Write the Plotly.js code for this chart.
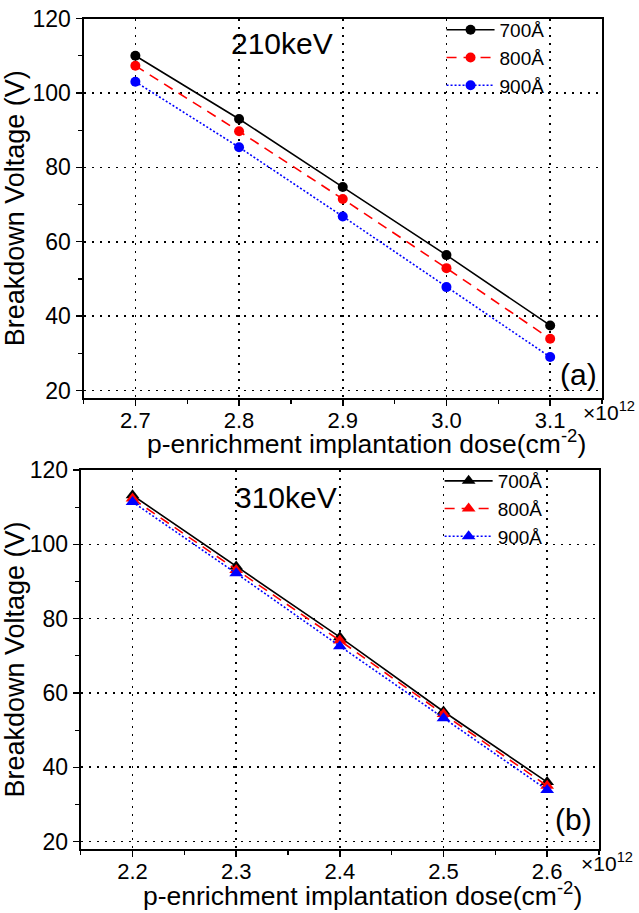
<!DOCTYPE html>
<html>
<head>
<meta charset="utf-8">
<script src="https://cdn.plot.ly/plotly-3.0.1.min.js"></script>
<style>html,body{margin:0;padding:0;background:#fff;}#chart{width:639px;height:913px;}</style>
</head>
<body>
<div id="chart"></div>
<script>
// Panel (a): 210keV
const doseA = [2.7, 2.8, 2.9, 3.0, 3.1];
const vA700 = [110.0, 93.0, 74.7, 56.4, 37.5];
const vA800 = [107.3, 89.7, 71.5, 52.9, 33.9];
const vA900 = [103.0, 85.4, 66.8, 47.8, 29.0];
// Panel (b): 310keV
const doseB = [2.2, 2.3, 2.4, 2.5, 2.6];
const vB700 = [113.2, 94.0, 75.0, 55.0, 36.0];
const vB800 = [112.3, 93.1, 74.1, 54.3, 35.0];
const vB900 = [111.4, 92.2, 72.6, 53.2, 33.9];
const seriesNames = ['700Å', '800Å', '900Å'];
const seriesColors = ['#000000', '#ff0000', '#0000ff'];
const seriesDash = ['solid', '10px,7px', '2px,2px'];
const xTicksA = [2.7, 2.8, 2.9, 3.0, 3.1];
const xTicksB = [2.2, 2.3, 2.4, 2.5, 2.6];
const yTicks = [20, 40, 60, 80, 100, 120];
const xTitle = 'p-enrichment implantation dose(cm<sup>-2</sup>)';
const yTitle = 'Breakdown Voltage (V)';

const FONT = 'Liberation Sans, Arial, sans-serif';
const traces = [];
const setsA = [vA700, vA800, vA900];
const setsB = [vB700, vB800, vB900];
setsA.forEach((v, i) => traces.push({
  x: doseA, y: v, name: seriesNames[i], type: 'scatter', mode: 'lines+markers',
  xaxis: 'x', yaxis: 'y', legend: 'legend',
  line: {color: seriesColors[i], width: 1.6, dash: seriesDash[i]},
  marker: {symbol: 'circle', size: 10, color: seriesColors[i]}
}));
setsB.forEach((v, i) => traces.push({
  x: doseB, y: v, name: seriesNames[i], type: 'scatter', mode: 'lines+markers',
  xaxis: 'x2', yaxis: 'y2', legend: 'legend2',
  line: {color: seriesColors[i], width: 1.6, dash: seriesDash[i]},
  marker: {symbol: 'triangle-up', size: 12, color: seriesColors[i]}
}));

function xax(domain, range, ticks, anchor) {
  return {
    domain: domain, range: range, anchor: anchor, tickvals: ticks, tickformat: '.1f',
    showline: true, linecolor: '#000', linewidth: 2, mirror: true,
    ticks: 'outside', ticklen: 6, tickwidth: 1.5, tickcolor: '#000',
    ticklabelstandoff: -4,
    minor: {dtick: 0.05, tick0: 0, ticks: 'outside', ticklen: 4, tickwidth: 1.2, tickcolor: '#000', showgrid: false},
    showgrid: true, gridcolor: '#000', gridwidth: 1.6, griddash: '2px,6px',
    zeroline: false, automargin: false,
    tickfont: {family: FONT, size: 22, color: '#000'}
  };
}
function yax(domain, anchor) {
  return {
    domain: domain, range: [18, 120], anchor: anchor, tickvals: yTicks,
    showline: true, linecolor: '#000', linewidth: 2, mirror: true,
    ticks: 'outside', ticklen: 6, tickwidth: 1.5, tickcolor: '#000',
    minor: {dtick: 10, tick0: 0, ticks: 'outside', ticklen: 4, tickwidth: 1.2, tickcolor: '#000', showgrid: false},
    showgrid: true, gridcolor: '#000', gridwidth: 1.6, griddash: '2px,6px',
    zeroline: false, automargin: false,
    tickfont: {family: FONT, size: 23, color: '#000'},
    title: {text: yTitle, font: {family: FONT, size: 27, color: '#000'}, standoff: 4}
  };
}

const legendBase = {
  xref: 'paper', yref: 'paper', xanchor: 'left', yanchor: 'top',
  bgcolor: 'rgba(255,255,255,0)', borderwidth: 0,
  font: {family: FONT, size: 19, color: '#000'}, itemwidth: 48, tracegroupgap: 0
};

const ann = (x, y, text, size, xanchor) => ({
  xref: 'paper', yref: 'paper', x: x / 639, y: 1 - y / 913,
  xanchor: xanchor || 'center', yanchor: 'middle',
  text: text, showarrow: false, font: {family: FONT, size: size, color: '#000'}
});

const layout = {
  width: 639, height: 913, paper_bgcolor: '#fff', plot_bgcolor: '#fff',
  margin: {l: 0, r: 0, t: 0, b: 0},
  showlegend: true,
  xaxis: xax([0.1307, 0.9421], [2.65, 3.15], xTicksA, 'y'),
  yaxis: yax([0.5641, 0.9797], 'x'),
  xaxis2: xax([0.1263, 0.9374], [2.15, 2.65], xTicksB, 'y2'),
  yaxis2: yax([0.0701, 0.4852], 'x2'),
  legend: Object.assign({}, legendBase, {x: 0.691, y: 0.988}),
  legend2: Object.assign({}, legendBase, {x: 0.688, y: 0.494}),
  annotations: [
    ann(282, 43, '210keV', 30),
    ann(558, 374, '(a)', 30, 'left'),
    ann(581, 411, '×10<sup>12</sup>', 21, 'left'),
    ann(366, 442, xTitle, 26.5),
    ann(286, 497, '310keV', 30),
    ann(553, 819, '(b)', 30, 'left'),
    ann(579, 862, '×10<sup>12</sup>', 21, 'left'),
    ann(362, 894, xTitle, 26.5)
  ]
};

Plotly.newPlot('chart', traces, layout, {displayModeBar: false, staticPlot: true});
</script>
</body>
</html>
